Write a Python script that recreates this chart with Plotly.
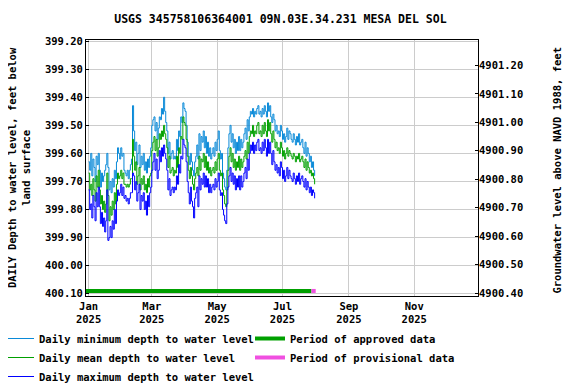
import pandas as pd
import plotly.graph_objects as go

# daily values, Jan 1 2025 .. Jul 31 2025 (depth below land surface, feet)
start_date = "2025-01-01"

depth_min = [
    399.63, 399.66, 399.60, 399.68, 399.62, 399.65, 399.70, 399.61, 399.64, 399.60,
    399.66, 399.72, 399.67, 399.70, 399.68, 399.66, 399.64, 399.60, 399.65, 399.73,
    399.70, 399.74, 399.69, 399.72, 399.66, 399.69, 399.63, 399.58, 399.60, 399.62,
    399.58, 399.61, 399.60, 399.66, 399.67, 399.68, 399.66, 399.69, 399.66, 399.64,
    399.62, 399.43, 399.52, 399.59, 399.56, 399.64, 399.60, 399.57, 399.65, 399.61,
    399.64, 399.60, 399.66, 399.63, 399.67, 399.62, 399.65, 399.61, 399.58, 399.50,
    399.48, 399.47, 399.52, 399.49, 399.55, 399.51, 399.47, 399.48, 399.44, 399.46,
    399.40, 399.45, 399.49, 399.52, 399.60, 399.56, 399.62, 399.60, 399.59, 399.62,
    399.61, 399.62, 399.55, 399.59, 399.52, 399.54, 399.47, 399.49, 399.42, 399.44,
    399.45, 399.50, 399.56, 399.61, 399.64, 399.60, 399.63, 399.66, 399.68, 399.63,
    399.61, 399.57, 399.62, 399.53, 399.59, 399.54, 399.56, 399.52, 399.58, 399.54,
    399.60, 399.56, 399.61, 399.58, 399.62, 399.60, 399.58, 399.61, 399.56, 399.59,
    399.55, 399.52, 399.59, 399.62, 399.60, 399.67, 399.69, 399.72, 399.73, 399.66,
    399.58, 399.53, 399.50, 399.56, 399.53, 399.58, 399.55, 399.60, 399.56, 399.59,
    399.54, 399.59, 399.55, 399.58, 399.56, 399.53, 399.51, 399.55, 399.48, 399.52,
    399.47, 399.45, 399.46, 399.44, 399.47, 399.45, 399.46, 399.44, 399.43, 399.46,
    399.45, 399.47, 399.44, 399.46, 399.43, 399.45, 399.47, 399.42, 399.45, 399.43,
    399.47, 399.49, 399.46, 399.48, 399.52, 399.50, 399.53, 399.52, 399.54, 399.50,
    399.52, 399.55, 399.53, 399.56, 399.54, 399.51, 399.55, 399.52, 399.53, 399.55,
    399.56, 399.53, 399.55, 399.57, 399.54, 399.56, 399.53, 399.57, 399.56, 399.55,
    399.58, 399.60, 399.56, 399.61, 399.58, 399.60, 399.63, 399.61, 399.65, 399.63,
    399.66, 399.68,
]

depth_mean = [
    399.67, 399.73, 399.71, 399.75, 399.69, 399.73, 399.77, 399.68, 399.72, 399.66,
    399.73, 399.78, 399.75, 399.80, 399.77, 399.81, 399.78, 399.67, 399.75, 399.84,
    399.79, 399.82, 399.77, 399.80, 399.74, 399.78, 399.71, 399.67, 399.69, 399.68,
    399.66, 399.69, 399.67, 399.71, 399.71, 399.72, 399.71, 399.72, 399.71, 399.69,
    399.69, 399.55, 399.61, 399.66, 399.63, 399.71, 399.68, 399.65, 399.73, 399.69,
    399.71, 399.68, 399.73, 399.71, 399.74, 399.69, 399.72, 399.68, 399.67, 399.59,
    399.56, 399.54, 399.59, 399.55, 399.61, 399.58, 399.53, 399.55, 399.52, 399.54,
    399.50, 399.53, 399.55, 399.58, 399.65, 399.61, 399.67, 399.66, 399.65, 399.68,
    399.66, 399.67, 399.61, 399.65, 399.58, 399.60, 399.54, 399.55, 399.47, 399.49,
    399.50, 399.55, 399.61, 399.66, 399.69, 399.65, 399.68, 399.71, 399.73, 399.69,
    399.67, 399.65, 399.68, 399.61, 399.66, 399.62, 399.63, 399.60, 399.65, 399.61,
    399.66, 399.63, 399.67, 399.65, 399.68, 399.66, 399.65, 399.67, 399.63, 399.66,
    399.62, 399.60, 399.66, 399.68, 399.67, 399.73, 399.75, 399.78, 399.79, 399.73,
    399.66, 399.61, 399.58, 399.63, 399.60, 399.65, 399.62, 399.66, 399.63, 399.65,
    399.61, 399.66, 399.62, 399.65, 399.63, 399.61, 399.59, 399.62, 399.56, 399.60,
    399.54, 399.52, 399.53, 399.50, 399.54, 399.52, 399.53, 399.50, 399.49, 399.53,
    399.52, 399.54, 399.50, 399.53, 399.49, 399.52, 399.54, 399.48, 399.52, 399.49,
    399.53, 399.56, 399.52, 399.55, 399.58, 399.56, 399.59, 399.58, 399.60, 399.56,
    399.58, 399.61, 399.59, 399.62, 399.60, 399.58, 399.61, 399.59, 399.60, 399.61,
    399.62, 399.60, 399.61, 399.63, 399.61, 399.62, 399.60, 399.63, 399.62, 399.61,
    399.63, 399.65, 399.62, 399.66, 399.63, 399.65, 399.67, 399.66, 399.68, 399.67,
    399.69, 399.71,
]

depth_max = [
    399.73, 399.80, 399.78, 399.83, 399.75, 399.79, 399.84, 399.74, 399.79, 399.72,
    399.79, 399.85, 399.81, 399.86, 399.83, 399.88, 399.84, 399.73, 399.91, 399.90,
    399.86, 399.90, 399.84, 399.87, 399.80, 399.85, 399.77, 399.73, 399.75, 399.74,
    399.71, 399.75, 399.72, 399.76, 399.75, 399.77, 399.76, 399.78, 399.76, 399.74,
    399.74, 399.67, 399.68, 399.73, 399.70, 399.77, 399.74, 399.71, 399.80, 399.75,
    399.77, 399.74, 399.80, 399.77, 399.82, 399.75, 399.79, 399.74, 399.72, 399.66,
    399.63, 399.60, 399.66, 399.62, 399.69, 399.66, 399.59, 399.63, 399.58, 399.61,
    399.57, 399.60, 399.62, 399.66, 399.73, 399.69, 399.75, 399.73, 399.72, 399.74,
    399.72, 399.73, 399.68, 399.71, 399.64, 399.67, 399.61, 399.62, 399.55, 399.57,
    399.58, 399.63, 399.70, 399.74, 399.78, 399.72, 399.77, 399.79, 399.83, 399.76,
    399.74, 399.72, 399.79, 399.68, 399.73, 399.69, 399.71, 399.67, 399.72, 399.68,
    399.72, 399.69, 399.74, 399.71, 399.74, 399.72, 399.71, 399.73, 399.69, 399.72,
    399.70, 399.67, 399.73, 399.75, 399.74, 399.80, 399.82, 399.84, 399.85, 399.78,
    399.72, 399.68, 399.65, 399.70, 399.67, 399.71, 399.68, 399.73, 399.69, 399.72,
    399.68, 399.73, 399.68, 399.72, 399.70, 399.67, 399.65, 399.69, 399.62, 399.66,
    399.60, 399.57, 399.59, 399.56, 399.60, 399.57, 399.59, 399.56, 399.55, 399.59,
    399.58, 399.60, 399.56, 399.59, 399.55, 399.58, 399.61, 399.55, 399.60, 399.56,
    399.60, 399.64, 399.59, 399.63, 399.66, 399.64, 399.67, 399.65, 399.68, 399.63,
    399.65, 399.69, 399.66, 399.70, 399.68, 399.65, 399.69, 399.66, 399.68, 399.69,
    399.70, 399.67, 399.69, 399.71, 399.68, 399.70, 399.67, 399.71, 399.69, 399.68,
    399.70, 399.72, 399.69, 399.73, 399.70, 399.72, 399.74, 399.72, 399.75, 399.73,
    399.74, 399.76,
]

# approval periods
approved_period = ["2024-12-01", "2025-07-28"]
provisional_period = ["2025-07-28", "2025-08-01"]

dates = pd.date_range(start_date, periods=len(depth_mean), freq="D")

font = "DejaVu Sans Mono"
txt = dict(family=font, size=10.5, color="black", weight="bold")
bar_y = 400.09

# the page body adds an 8px margin, so the figure is 8px smaller than the window
W, H = 568, 376
L, T, PW, PH = 78, 32, 392, 256  # plot area in figure pixels

fig = go.Figure()

fig.add_trace(go.Scatter(x=dates, y=depth_min, mode="lines", line_shape="hv",
                         line=dict(color="#0a8ad8", width=1),
                         name="Daily minimum depth to water level", legend="legend"))
fig.add_trace(go.Scatter(x=dates, y=depth_mean, mode="lines", line_shape="hv",
                         line=dict(color="#00a000", width=1),
                         name="Daily mean depth to water level", legend="legend"))
fig.add_trace(go.Scatter(x=dates, y=depth_max, mode="lines", line_shape="hv",
                         line=dict(color="#0000ff", width=1),
                         name="Daily maximum depth to water level", legend="legend"))
fig.add_trace(go.Scatter(x=approved_period, y=[bar_y, bar_y], mode="lines",
                         line=dict(color="#00a000", width=4),
                         name="Period of approved data", legend="legend2"))
fig.add_trace(go.Scatter(x=provisional_period, y=[bar_y, bar_y], mode="lines",
                         line=dict(color="#f050e0", width=4),
                         name="Period of provisional data", legend="legend2"))
# dummy trace so the right axis gets drawn
fig.add_trace(go.Scatter(x=[dates[0]], y=[4900.5], yaxis="y2", mode="markers",
                         marker=dict(opacity=0), showlegend=False, hoverinfo="skip"))

legend_common = dict(orientation="v", xref="paper", yref="paper",
                     xanchor="left", yanchor="top", font=txt, itemwidth=30,
                     tracegroupgap=0, bgcolor="rgba(0,0,0,0)", traceorder="normal",
                     y=(T + PH - 316) / PH)

fig.update_layout(
    width=W, height=H,
    margin=dict(l=L, r=W - L - PW, t=T, b=H - T - PH, autoexpand=False),
    paper_bgcolor="white", plot_bgcolor="white",
    font=txt,
    title=dict(text="USGS 345758106364001 09N.03E.34.231 MESA DEL SOL",
               x=0.496, xref="paper", y=1 - 11 / H, yanchor="middle",
               font=dict(family=font, size=11.5, color="black", weight="bold")),
    xaxis=dict(type="date", range=["2024-12-29 14:00", "2025-12-30 12:00"],
               tick0="2025-01-01", dtick="M2", tickformat="%b<br>%Y",
               showgrid=True, gridcolor="#cccccc", gridwidth=1,
               showline=True, linecolor="black", linewidth=1, mirror=True,
               ticks="", tickfont=txt, zeroline=False, automargin=False),
    yaxis=dict(range=[400.108, 399.196], tick0=399.2, dtick=0.1, tickformat=".2f",
               showgrid=True, gridcolor="#cccccc", gridwidth=1,
               showline=True, linecolor="black", linewidth=1, mirror=True,
               ticks="inside", ticklen=3, tickcolor="black",
               tickfont=txt, zeroline=False, automargin=False),
    yaxis2=dict(overlaying="y", side="right", range=[4900.39, 4901.289],
                tick0=4900.4, dtick=0.1, tickformat=".2f", showgrid=False,
                ticks="inside", ticklen=3, tickcolor="black",
                tickfont=txt, zeroline=False, showline=False, automargin=False),
    legend=dict(legend_common, x=(-9 - L) / PW),
    legend2=dict(legend_common, x=(242 - L) / PW),
    showlegend=True,
)

fig.add_annotation(text="DAILY Depth to water level, feet below<br>land surface",
                   xref="paper", yref="paper", x=(11 - L) / PW, y=0.5,
                   textangle=-90, showarrow=False, font=txt,
                   xanchor="center", yanchor="middle")
fig.add_annotation(text="Groundwater level above NAVD 1988, feet",
                   xref="paper", yref="paper", x=(549 - L) / PW, y=0.49,
                   textangle=-90, showarrow=False, font=txt,
                   xanchor="center", yanchor="middle")

fig.write_html("out.html")
